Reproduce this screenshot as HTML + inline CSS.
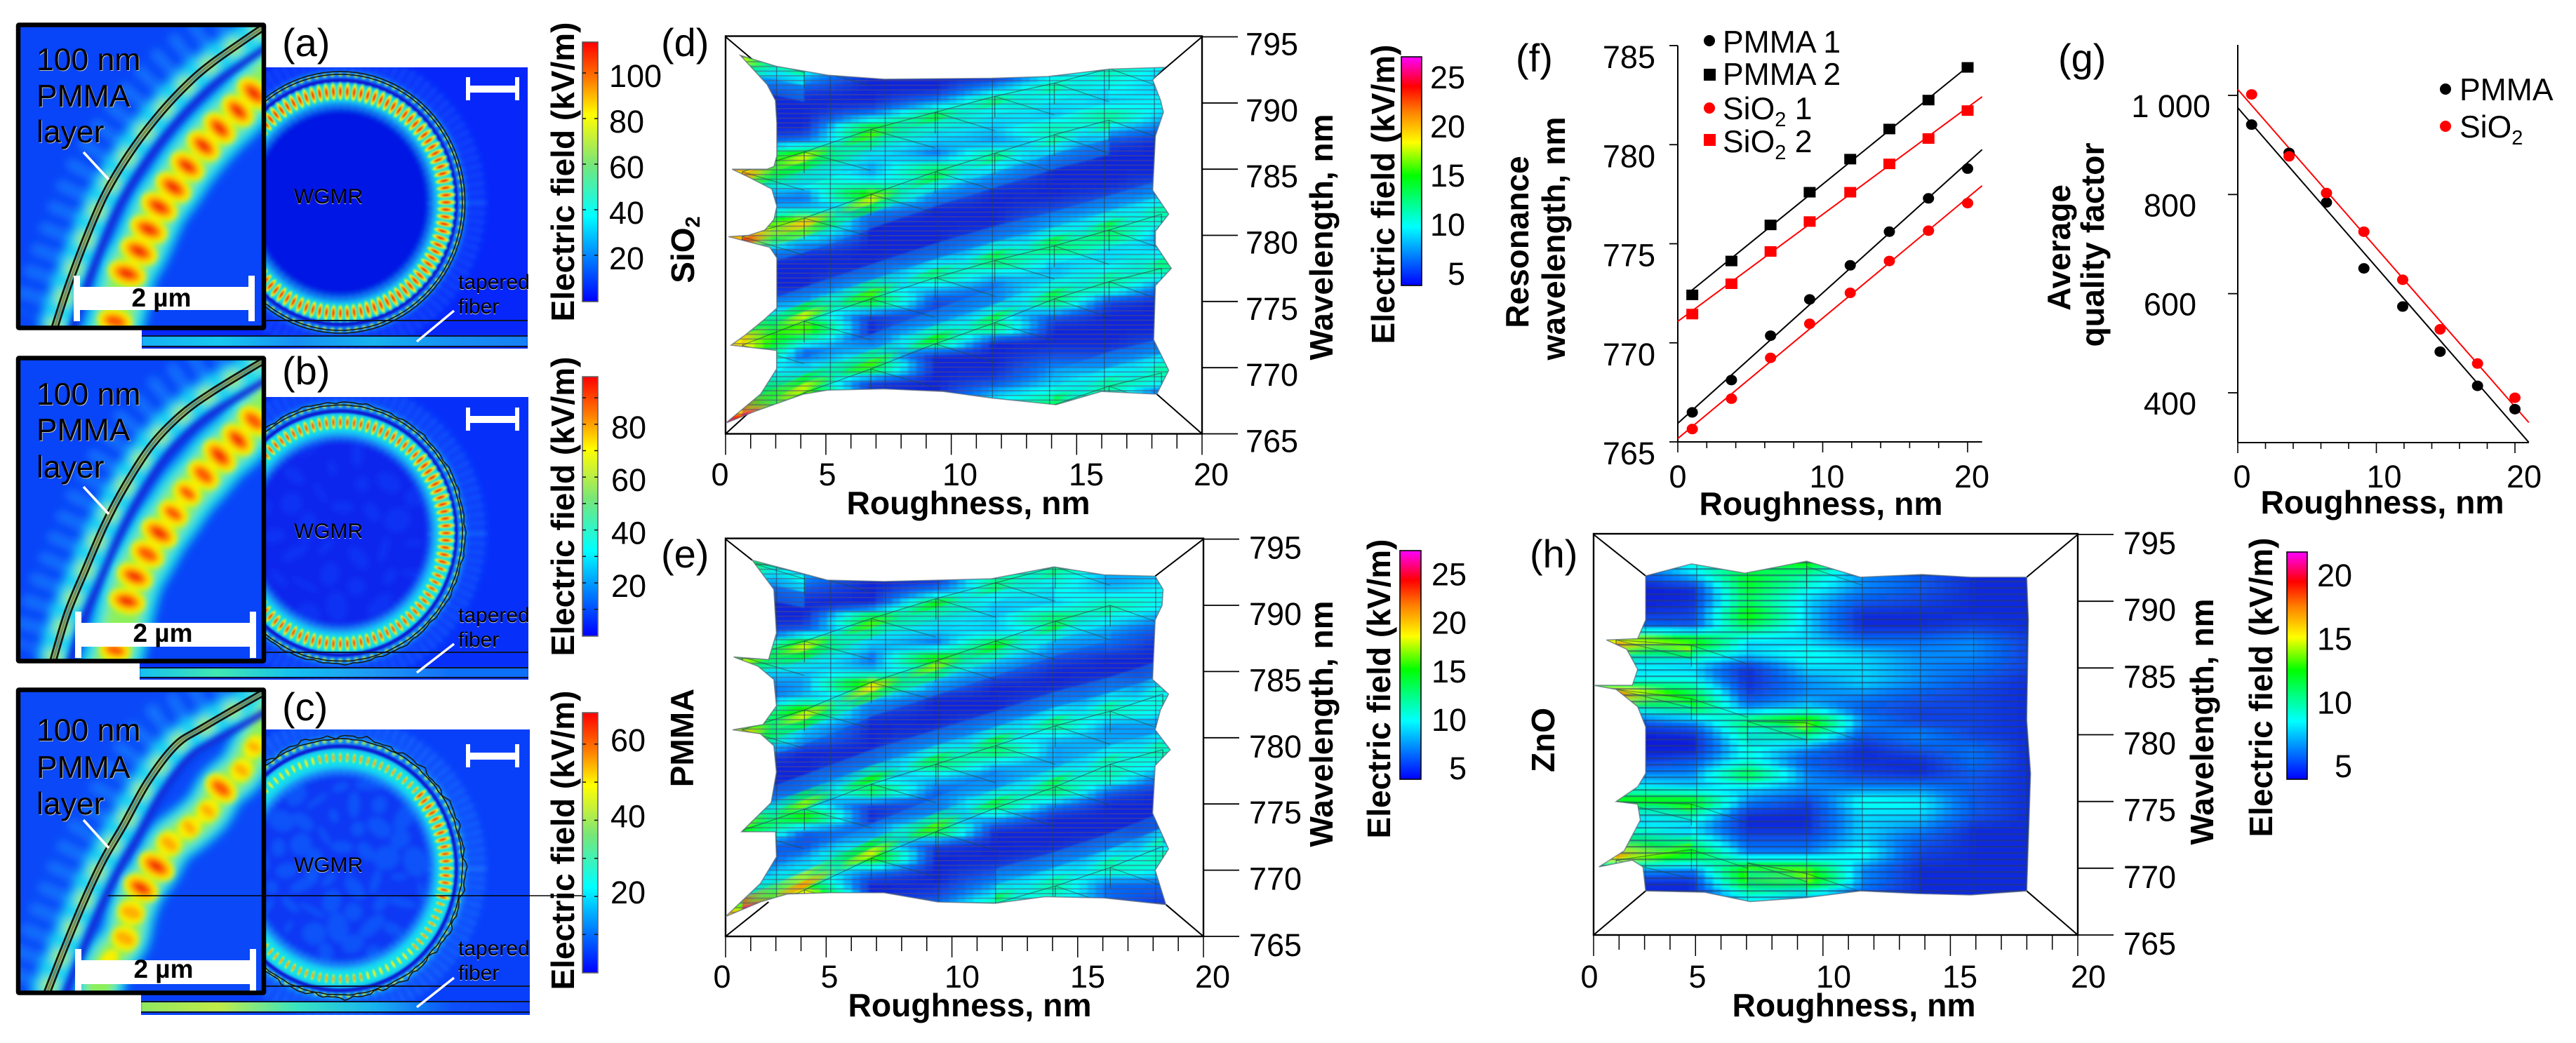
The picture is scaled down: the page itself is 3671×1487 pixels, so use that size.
<!DOCTYPE html>
<html lang="en">
<head>
<meta charset="utf-8">
<title>Electric field in whispering gallery mode resonators with rough coatings</title>
<style>
html,body{margin:0;padding:0;background:#fff;}
svg{display:block;}
text{font-family:"Liberation Sans",sans-serif;fill:#000;}
.num{font-size:45px;}
.lab{font-size:56px;}
.ttl{font-size:46px;font-weight:bold;}
.ins{font-size:44.5px;filter:drop-shadow(1px 1px 0 #bbb);}
.sm{font-size:30px;filter:drop-shadow(0.6px 1px 0 #ccc);}
.leg{font-size:44.5px;}
.sub{font-size:29px;}
</style>
</head>
<body>
<svg id="figure" xmlns="http://www.w3.org/2000/svg" width="3671" height="1487" viewBox="0 0 3671 1487">
<defs id="defs">
  <filter id="blur1" x="-10%" y="-10%" width="120%" height="120%"><feGaussianBlur stdDeviation="1.1"/></filter>
  <filter id="blur2" x="-10%" y="-10%" width="120%" height="120%"><feGaussianBlur stdDeviation="2.2"/></filter>
  <filter id="blur4" x="-10%" y="-10%" width="120%" height="120%"><feGaussianBlur stdDeviation="4"/></filter>
  <filter id="blur7" x="-15%" y="-15%" width="130%" height="130%"><feGaussianBlur stdDeviation="7"/></filter>
  <pattern id="stripes" patternUnits="userSpaceOnUse" width="20" height="6.7">
    <rect x="0" y="0" width="20" height="1.9" fill="#5a4a78" fill-opacity="0.5"/>
  </pattern>
  <pattern id="stripes-h" patternUnits="userSpaceOnUse" width="20" height="9">
    <rect x="0" y="0" width="20" height="2.4" fill="#2a3a68" fill-opacity="0.55"/>
  </pattern>
  <linearGradient id="jet" x1="0" y1="1" x2="0" y2="0">
    <stop offset="0" stop-color="#0000ff"/><stop offset="0.17" stop-color="#0080ff"/><stop offset="0.33" stop-color="#00ffff"/>
    <stop offset="0.53" stop-color="#78e678"/><stop offset="0.63" stop-color="#c4f03c"/><stop offset="0.72" stop-color="#ffff00"/>
    <stop offset="0.85" stop-color="#ff8000"/><stop offset="1" stop-color="#ff0000"/>
  </linearGradient>
  <linearGradient id="rainbow" x1="0" y1="1" x2="0" y2="0">
    <stop offset="0" stop-color="#0000ff"/><stop offset="0.13" stop-color="#0080ff"/><stop offset="0.256" stop-color="#00ffff"/>
    <stop offset="0.37" stop-color="#00ff80"/><stop offset="0.48" stop-color="#00ff00"/><stop offset="0.625" stop-color="#ffff00"/>
    <stop offset="0.76" stop-color="#ff8000"/><stop offset="0.87" stop-color="#ff0000"/><stop offset="1" stop-color="#ff00ff"/>
  </linearGradient>
</defs>

<!-- Panel (a) -->
<g id="a-main"></g>
<text class="sm" x="468" y="290" text-anchor="middle">WGMR</text>
<text class="sm" x="653" y="412">tapered</text>
<text class="sm" x="653" y="447">fiber</text>
<g id="a-inset"></g>
<text class="ins" x="52" y="100">100 nm</text>
<text class="ins" x="52" y="152">PMMA</text>
<text class="ins" x="52" y="203">layer</text>
<text x="230" y="437" font-size="37" font-weight="bold" text-anchor="middle">2 µm</text>
<text class="lab" x="402" y="80">(a)</text>
<text class="ttl" transform="translate(818,245) rotate(-90)" text-anchor="middle">Electric field (kV/m)</text>

<!-- Panel (b) -->
<g id="b-main"></g>
<text class="sm" x="468" y="767" text-anchor="middle">WGMR</text>
<text class="sm" x="653" y="887">tapered</text>
<text class="sm" x="653" y="922">fiber</text>
<g id="b-inset"></g>
<text class="ins" x="52" y="577">100 nm</text>
<text class="ins" x="52" y="628">PMMA</text>
<text class="ins" x="52" y="681">layer</text>
<text x="232" y="915" font-size="37" font-weight="bold" text-anchor="middle">2 µm</text>
<text class="lab" x="402" y="548">(b)</text>
<text class="ttl" transform="translate(818,722) rotate(-90)" text-anchor="middle">Electric field (kV/m)</text>

<!-- Panel (c) -->
<g id="c-main"></g>
<text class="sm" x="468" y="1243" text-anchor="middle">WGMR</text>
<text class="sm" x="653" y="1362">tapered</text>
<text class="sm" x="653" y="1397">fiber</text>
<g id="c-inset"></g>
<text class="ins" x="52" y="1056">100 nm</text>
<text class="ins" x="52" y="1109">PMMA</text>
<text class="ins" x="52" y="1161">layer</text>
<text x="233" y="1394" font-size="37" font-weight="bold" text-anchor="middle">2 µm</text>
<text class="lab" x="402" y="1027">(c)</text>
<text class="ttl" transform="translate(818,1198) rotate(-90)" text-anchor="middle">Electric field (kV/m)</text>
<line x1="154" y1="1277" x2="835" y2="1277" stroke="#000" stroke-width="1.6"/>

<g id="colorbars"></g>

<!-- Panel (d) -->
<g id="d-surface"></g>
<text class="lab" x="942" y="80">(d)</text>
<text class="ttl" transform="translate(989,356) rotate(-90)" text-anchor="middle">SiO<tspan class="sub" dy="8">2</tspan></text>
<text class="ttl" x="1380" y="733" text-anchor="middle" textLength="347" lengthAdjust="spacingAndGlyphs">Roughness, nm</text>
<text class="ttl" transform="translate(1899,338) rotate(-90)" text-anchor="middle">Wavelength, nm</text>
<text class="ttl" transform="translate(1987,277) rotate(-90)" text-anchor="middle">Electric field (kV/m)</text>

<!-- Panel (e) -->
<g id="e-surface"></g>
<text class="lab" x="942" y="809">(e)</text>
<text class="ttl" transform="translate(988,1052) rotate(-90)" text-anchor="middle">PMMA</text>
<text class="ttl" x="1382" y="1449" text-anchor="middle" textLength="347" lengthAdjust="spacingAndGlyphs">Roughness, nm</text>
<text class="ttl" transform="translate(1899,1032) rotate(-90)" text-anchor="middle">Wavelength, nm</text>
<text class="ttl" transform="translate(1981,982) rotate(-90)" text-anchor="middle">Electric field (kV/m)</text>

<!-- Panel (h) -->
<g id="h-surface"></g>
<text class="lab" x="2180" y="809">(h)</text>
<text class="ttl" transform="translate(2215,1055) rotate(-90)" text-anchor="middle">ZnO</text>
<text class="ttl" x="2642" y="1449" text-anchor="middle" textLength="347" lengthAdjust="spacingAndGlyphs">Roughness, nm</text>
<text class="ttl" transform="translate(3154,1029) rotate(-90)" text-anchor="middle">Wavelength, nm</text>
<text class="ttl" transform="translate(3238,980) rotate(-90)" text-anchor="middle">Electric field (kV/m)</text>

<!-- Panel (f) -->
<g id="f-chart"></g>
<text class="lab" x="2160" y="102">(f)</text>
<text class="ttl" transform="translate(2178,345) rotate(-90)" text-anchor="middle">Resonance</text>
<text class="ttl" transform="translate(2230,340) rotate(-90)" text-anchor="middle" textLength="347" lengthAdjust="spacingAndGlyphs">wavelength, nm</text>
<text class="ttl" x="2595" y="734" text-anchor="middle" textLength="347" lengthAdjust="spacingAndGlyphs">Roughness, nm</text>
<g>
  <circle cx="2436" cy="58" r="8" fill="#000"/>
  <text class="leg" x="2455" y="75">PMMA 1</text>
  <rect x="2428" y="98" width="17" height="17" fill="#000"/>
  <text class="leg" x="2455" y="121">PMMA 2</text>
  <circle cx="2436" cy="154" r="8" fill="#f00"/>
  <text class="leg" x="2455" y="170">SiO<tspan class="sub" dy="10">2</tspan><tspan dy="-10"> 1</tspan></text>
  <rect x="2428" y="191" width="17" height="17" fill="#f00"/>
  <text class="leg" x="2455" y="217">SiO<tspan class="sub" dy="10">2</tspan><tspan dy="-10"> 2</tspan></text>
</g>

<!-- Panel (g) -->
<g id="g-chart"></g>
<text class="lab" x="2933" y="102">(g)</text>
<text class="ttl" transform="translate(2950,353) rotate(-90)" text-anchor="middle">Average</text>
<text class="ttl" transform="translate(2998,349) rotate(-90)" text-anchor="middle" textLength="291" lengthAdjust="spacingAndGlyphs">quality factor</text>
<text class="ttl" x="3395" y="732" text-anchor="middle" textLength="347" lengthAdjust="spacingAndGlyphs">Roughness, nm</text>
<g>
  <circle cx="3485" cy="127" r="8" fill="#000"/>
  <text class="leg" x="3505" y="143">PMMA</text>
  <circle cx="3485" cy="180" r="8" fill="#f00"/>
  <text class="leg" x="3505" y="196">SiO<tspan class="sub" dy="10">2</tspan></text>
</g>
</svg>

<script>
/* ---------- Panel (f) data ---------- */
const roughnessPoints = [1, 3.7, 6.4, 9.1, 11.9, 14.6, 17.3, 20];
const wavelengthPmma1 = [766.49, 768.12, 770.36, 772.19, 773.91, 775.61, 777.29, 778.79];
const wavelengthPmma2 = [772.42, 774.13, 775.95, 777.6, 779.27, 780.79, 782.25, 783.9];
const wavelengthSio1 = [765.65, 767.18, 769.24, 770.96, 772.52, 774.13, 775.66, 777.05];
const wavelengthSio2 = [771.45, 772.98, 774.61, 776.12, 777.6, 779.03, 780.31, 781.72];
const fitPmma1 = [0, 765.94, 21, 779.75];
const fitPmma2 = [0.8, 772.55, 20.2, 784.05];
const fitSio1 = [0, 765.17, 21, 777.93];
const fitSio2 = [0, 771.08, 21, 782.42];
const fTicksY = [765, 770, 775, 780, 785];
const fTicksX = [0, 10, 20];

/* ---------- Panel (g) data ---------- */
const qualityPmma = [941, 884, 784, 651, 574, 483, 414, 367];
const qualitySio = [1002, 877, 803, 725, 628, 528, 459, 390];
const fitQualityPmma = [0, 975, 21, 300];
const fitQualitySio = [0, 1012, 21, 340];
const gTicksY = [400, 600, 800, 1000];
const gTickLabelsY = ['400', '600', '800', '1 000'];
const gTicksX = [0, 10, 20];

/* ---------- Surface panels shared axes ---------- */
const wavelengthRows = [794,793,792,791,790,789,788,787,786,785,784,783,782,781,780,779,778,777,776,775,774,773,772,771,770,769,768,767,766];
const wavelengthTicks = [765, 770, 775, 780, 785, 790, 795];
const roughnessTickLabels = [0, 5, 10, 15, 20];

/* ---------- Panel (d) SiO2 surface ---------- */
const roughnessColsD = [0.7, 3.3, 6.1, 8.8, 11.3, 13.8, 16.1, 18.3];
const fieldD = [
 [18,14,8,5,5,5,5,6,12,22,14,8,8,12,24,10,5,5,5,6,10,13,20,18,8,12,14,17,26],
 [9,12,9,6,5,5,5,8,18,12,11,7,9,20,12,6,5,5,5,8,12,18,11,6,10,13,18,10,10],
 [5,5,5,5,5,8,16,12,10,8,10,18,8,5,5,5,5,6,10,16,6,5,6,10,16,6,5,5,5],
 [5,5,5,5,8,14,11,9,7,14,11,7,5,5,5,5,7,13,9,6,6,9,15,5,5,5,5,5,5],
 [5,5,5,9,13,10,9,8,13,9,6,5,5,5,6,9,14,9,7,7,10,14,5,5,5,6,9,10,5],
 [5,6,10,12,10,9,12,10,7,5,5,5,6,8,10,14,9,9,11,14,7,5,5,6,8,9,11,14,5],
 [5,12,11,10,9,13,9,6,5,5,5,6,8,11,14,10,10,12,12,6,5,5,5,6,8,12,12,6,5],
 [6,10,9,9,10,9,7,5,5,5,6,8,12,11,8,9,13,11,7,5,5,5,6,8,12,11,6,5,5]
];
const outlineRoughnessD = [0.62,2.14,4.3,6.66,11.16,13.53,16.12,18.42,17.93,18.26,18.38,18.04,17.93,18.6,18.04,18.04,18.71,18.04,17.97,18.6,18.1,15.78,13.87,11.2,9.13,6.65,4.28,3.27,1.24,0,1.47,2.14,2.14,1.2,0.23,0.85,1.6,2.15,2.15,1.85,0.97,0.12,0.97,1.65,2.03,2.15,1.94,0.97,0.27,1.74,2.03,2.15,2.15,2.09,1.74];
const outlineWavelengthD = [793.6,792.77,792.1,791.8,791.87,792,792.56,792.69,791.74,790.2,789.3,787.5,783.4,781.6,780.3,779.3,777.5,776.2,772.1,769.8,768,768.2,767.2,767.7,768.2,768.4,768.3,768,766.7,765.8,768,769.9,771.3,771.5,771.7,772.5,773.6,774.5,778.3,779.1,779.5,779.9,780,780.4,781.2,782.2,783.5,784.4,785,785,785.2,786,788.5,790.2,791.4];
const ridgesD = [
 [793.7,792.7,null,null,null,null,null,null],
 [784.8,786.3,788,789.3,790.5,791.5,792.6,null],
 [779.9,781.3,783.1,784.8,786.2,787.6,788.7,null],
 [771.7,773.5,775.2,776.8,778.1,779.2,780.4,781.6],
 [765.8,768.1,769.9,771.8,773.4,775.2,776.5,777.5],
 [null,null,null,null,null,767.2,768.6,769.6]
];
const ridgeSidesD = [-1,-1,-1,1,1,1];
const meshColsD = [2.14,4.4,6.7,8.9,11.2,13.6,15.9,18];
const cornerRoughnessD = [2.14,17.88,18.1,2.14];
const cornerWavelengthD = [791.74,791.74,768,768.5];
const colorbarTicksD = [5,10,15,20,25];

/* ---------- Panel (e) PMMA surface ---------- */
const roughnessColsE = [0.7, 3.3, 6.1, 8.8, 11.3, 13.8, 16.1, 18.3];
const fieldE = [
 [16,14,8,5,5,5,5,6,18,10,7,6,8,16,20,8,5,5,5,6,10,17,8,5,6,9,12,18,26],
 [6,9,8,6,5,5,7,18,12,9,8,9,18,10,8,5,5,5,6,10,17,7,6,8,11,14,21,6,5],
 [5,5,5,5,5,16,11,9,7,9,19,9,6,5,5,5,6,9,15,6,5,7,10,18,8,5,5,5,5],
 [5,5,5,8,15,11,9,7,17,11,8,5,5,5,6,9,14,9,7,6,8,16,6,5,5,5,6,8,5],
 [5,6,13,11,9,9,9,15,10,7,5,5,5,7,10,14,9,7,8,14,9,5,5,5,6,8,10,14,6],
 [5,13,11,10,9,14,10,8,6,5,5,6,8,13,9,8,8,10,14,8,5,5,5,6,8,12,11,7,5],
 [5,9,8,9,12,10,8,7,5,5,6,8,12,8,8,9,11,12,7,5,5,5,6,9,12,7,7,6,5],
 [6,8,9,10,10,8,6,5,5,5,7,11,10,8,8,12,10,7,5,5,5,5,9,12,10,7,6,5,5]
];
const outlineRoughnessE = [1.12,4.27,6.63,11.12,13.75,15.84,17.98,18.31,18.27,17.98,17.87,18.54,18.2,17.98,18.61,17.98,17.87,18.54,17.98,18.43,15.84,13.37,11.28,8.88,6.63,4.38,2.58,1.46,0,1.46,2.13,2.09,0.67,1.91,2.13,2.02,1.46,0.29,1.57,2.13,2.02,1.35,0.34,1.8,2.13,2.02];
const outlineWavelengthE = [793.4,791.9,791.8,792,792.9,792.3,792.2,791.2,790,788.9,784.4,783.3,782.1,780.6,779.1,777.9,774.3,771.6,770,767.4,767.9,768,767.5,767.6,768.3,768.3,768.2,767.6,766.5,769,771,772.9,772.9,775.1,777.4,779.4,780.3,780.6,781,782.4,784.4,785.4,786.1,785.9,787.9,791.2];
const ridgesE = [
 [793.4,792.4,null,null,null,null,null,null],
 [786.1,787.3,789,790.5,791.7,792.9,null,null],
 [780.6,782.1,784.2,785.8,787.3,788.8,790,null],
 [773,774.6,776.5,778,779.4,780.9,782,783.3],
 [766.5,768.5,770.9,772.9,774.7,776.3,778,779.1],
 [null,null,null,null,767.5,768.8,770.2,771.8]
];
const ridgeSidesE = [-1,-1,-1,1,1,1];
const meshColsE = [2.13,4.4,6.7,8.9,11.3,13.7,15.9,18];
const cornerRoughnessE = [1.12,17.98,18.43,1.8];
const cornerWavelengthE = [793.4,792.2,767.4,767.6];
const colorbarTicksE = [5,10,15,20,25];

/* ---------- Panel (h) ZnO surface (rows by wavelength) ---------- */
const roughnessColsH = [0.93, 4.04, 6.36, 8.8, 11.1, 13.5, 15.7, 17.9];
const fieldRowsH = [
 [5,7,9,11,5,5,5,5],[5,9,10,13,7,5,5,5],[5,8,12,10,7,6,5,5],[4.5,5,12,9,7,6,5,5],[4.5,5,11,8,6,5.5,5,5],
 [5,5.5,13,8,5,5,5,5],[7,6,11,8,5,5,5.5,5],[17,14,8,8,6.5,6.5,7,5.5],[11,10,8,9,8,7,7,5.5],[8,8,5,8,8,7,6.5,5.5],
 [9,9,5,7,8,7,6,5],[18,12,5.5,7,7,6,5.5,5],[9,12,7,8,6,5.5,5.5,5],[5.5,7,11,14,7,5.5,5.5,5],[4.5,5,10,11,6,7,5.5,5],
 [4.5,4.5,9,7,5,6,6.5,5],[5,6,9,6,5,5,6.5,5],[7,7,12,7,5.5,5,6,5],[9,8,8,7,7,7,6,5],[13,13,7,5.5,9,8.5,6,5],
 [8,10,5,5,8,8,6,5],[9,8,5,5,8,7,5,5],[13,10,6,6,8,6,5,5],[17,13,7,7,9,5.5,5,5],[8,7,13,13,7,5,5,5],
 [5,5,13,14,7,5,5,5],[5,5,9,8,6,5,5,5],[5,5,8,7,6,5,5,5],[5,5,5,5,5,5,5,5]
];
const outlineRoughnessH = [2.15,4.04,6.25,8.8,11.02,13.57,15.57,17.89,17.96,17.89,18.05,17.89,15.57,13.35,11.02,8.8,6.47,4.59,2.15,2.04,1.6,0.22,1.26,1.93,1.82,0.93,1.82,2.15,2.15,1.82,0.93,0,1.6,1.82,1.37,0.53,1.82,2.15];
const outlineWavelengthH = [791.9,792.8,792.1,793,791.8,792,791.8,791.8,788.6,781.1,777.1,768.3,768,768.1,768.3,767.8,767.5,768.2,768.3,770.1,770.6,770.1,771.3,773.6,774.8,775,776.1,777.1,780.6,782.1,783.4,783.7,783.7,784.9,786.4,787.1,787.2,788.6];
const ridgesH = [
 [787.1,786.7,null,null,null,null,null,null],
 [783.4,782.7,null,null,null,null,null,null],
 [775,774.8,null,null,null,null,null,null],
 [770.6,771.4,null,null,null,null,null,null],
 [null,null,781,780.9,null,null,null,null],
 [null,null,770.4,769.6,null,null,null,null],
 [null,null,null,792.6,null,null,null,null]
];
const ridgeSidesH = [-1,-1,-1,1,-1,-1,-1];
const meshColsH = [2.15,4.26,6.36,8.8,11.1,13.5,15.7,17.9];
const cornerRoughnessH = [2.15,17.89,17.89,2.15];
const cornerWavelengthH = [791.9,791.8,768.3,768.3];
const colorbarTicksH = [5,10,15,20];

/* ---------- Field maps (a)-(c): resonator hot-spot brightness ---------- */
const ringBrightnessA = [1,1,1,.95,.95,1,1,1,1,1,1,1];
const ringBrightnessB = [.95,.8,.8,.85,.85,.9,.85,.8,.8,.8,.85,1];
const ringBrightnessC = [.85,.55,.5,.55,.55,.6,.55,.5,.5,.55,.55,.9];
const insetHotspotsA = [1,.95,.95,.95,.95,1,1,1,1,1,.9];
const insetHotspotsB = [.9,.95,1,.9,.75,.8,1,.9,.95,.95,.8];
const insetHotspotsC = [.5,.55,.9,.55,.55,.65,1,.95,.7,.7,.4];
const colorbarTicksA = [20,40,60,80,100];
const colorbarTicksB = [20,40,60,80];
const colorbarMinorB = [10,30,50,70,90];
const colorbarTicksC = [20,40,60];
const colorbarMinorC = [10,30,50];

const NS = 'http://www.w3.org/2000/svg';
const svg = document.getElementById('figure');
const defs = document.getElementById('defs');

function mk(tag, attrs, parent) {
  const e = document.createElementNS(NS, tag);
  for (const k in attrs) e.setAttribute(k, attrs[k]);
  if (parent) parent.appendChild(e);
  return e;
}

/* Rainbow colour map used by surfaces */
const mapT = [0, .06, .16, .256, .37, .48, .625, .76, .87, 1];
const mapC = [[0,0,215],[15,45,222],[0,128,255],[0,255,255],[0,255,128],[0,255,0],[255,255,0],[255,128,0],[255,0,0],[255,0,255]];
function colourAt(t) {
  t = Math.max(0, Math.min(1, t));
  let i = 0;
  while (i < mapT.length - 2 && t > mapT[i + 1]) i++;
  const f = (t - mapT[i]) / (mapT[i + 1] - mapT[i]);
  const c = mapC[i].map((a, j) => Math.round(a + (mapC[i + 1][j] - a) * f));
  return 'rgb(' + c.join(',') + ')';
}

function smoothPath(p) {
  let d = 'M' + p[0][0] + ' ' + p[0][1];
  for (let i = 0; i < p.length - 1; i++) {
    const a = p[Math.max(i - 1, 0)], b = p[i], c = p[i + 1], e = p[Math.min(i + 2, p.length - 1)];
    d += 'C' + (b[0] + (c[0] - a[0]) / 6).toFixed(1) + ' ' + (b[1] + (c[1] - a[1]) / 6).toFixed(1) + ' ' +
         (c[0] - (e[0] - b[0]) / 6).toFixed(1) + ' ' + (c[1] - (e[1] - b[1]) / 6).toFixed(1) + ' ' + c[0] + ' ' + c[1];
  }
  return d;
}

/* ---------- Surface plots ---------- */
function drawSurface(s) {
  const root = document.getElementById(s.id + '-surface');
  const xOf = r => s.L + r * (s.R - s.L) / 20;
  const yOf = w => s.B - (w - 765) * (s.B - s.T) / 30;

  /* frame */
  const frame = mk('rect', {x: s.L, y: s.T - 1, width: s.R - s.L, height: s.B - s.T + 1, fill: 'none', stroke: '#000', 'stroke-width': 2.4}, root);
  
  

  /* corner edges of 3D box */
  const outerX = [s.L, s.R, s.R, s.L];
  const outerY = [s.T, s.T, s.B, s.B];
  s.cornerR.forEach((r, i) => {
    const line = mk('line', {x1: outerX[i], y1: outerY[i], x2: xOf(r), y2: yOf(s.cornerW[i]), stroke: '#000', 'stroke-width': 2}, root);
    
    
  });

  /* wavelength axis */
  wavelengthTicks.forEach(w => {
    const t = mk('line', {x1: s.R, y1: yOf(w), x2: s.R + 51, y2: yOf(w), stroke: '#000', 'stroke-width': 1.8}, root);
    
    
    const lbl = mk('text', {x: s.labelX, y: yOf(w) + s.labelDy, class: 'num'}, root);
    
    
    lbl.textContent = w;
  });

  /* roughness axis: the source has 19 divisions with labels on every fifth */
  const step = (s.R - s.L) / 19;
  for (let i = 0; i < 20; i++) {
    const major = (i === 0 || (i + 1) % 5 === 0);
    const t = mk('line', {x1: s.L + i * step, y1: s.B, x2: s.L + i * step, y2: s.B + (major ? 30 : 21), stroke: '#000', 'stroke-width': 1.5}, root);
    
    
  }
  roughnessTickLabels.forEach((v, i) => {
    const lbl = mk('text', {x: s.xLabelX[i], y: s.xLabelY, class: 'num', 'text-anchor': 'middle'}, root);
    
    
    lbl.textContent = v;
  });

  /* clip to silhouette */
  const pts = s.outlineR.map((r, i) => xOf(r).toFixed(1) + ',' + yOf(s.outlineW[i]).toFixed(1)).join(' ');
  const cp = mk('clipPath', {id: s.id + '-clip'}, defs);
  mk('polygon', {points: pts}, cp);
  const clipped = mk('g', {'clip-path': 'url(#' + s.id + '-clip)'}, root);
  
  
  const cells = mk('g', {filter: 'url(#blur2)'}, clipped);
  
  

  const sample = (r, w) => {
    const cs = s.cols;
    let c = 0;
    while (c < cs.length - 2 && r > cs[c + 1]) c++;
    const fc = Math.max(0, Math.min(1, (r - cs[c]) / (cs[c + 1] - cs[c])));
    const ws = wavelengthRows;
    const rr = Math.max(0, Math.min(ws.length - 1.001, ws[0] - w));
    const ri = Math.floor(rr), fr = rr - ri;
    const a = s.field[c][ri] * (1 - fr) + s.field[c][ri + 1] * fr;
    const b = s.field[c + 1][ri] * (1 - fr) + s.field[c + 1][ri + 1] * fr;
    return a * (1 - fc) + b * fc;
  };
  const crestT = (c, w) => {
    const rr = Math.max(0, Math.min(wavelengthRows.length - 2, wavelengthRows[0] - w));
    const ri = Math.floor(rr);
    const v = Math.max(s.field[c][ri], s.field[c][ri + 1]);
    return (v - s.vmin) / (s.vmax - s.vmin);
  };
  const dr = 0.34, dw = 0.5;
  for (let r = -0.5; r < 19.5; r += dr) {
    for (let w = 795; w > 765; w -= dw) {
      const v = sample(r + dr / 2, w - dw / 2);
      const cell = mk('rect', {
        x: xOf(r).toFixed(1), y: yOf(w).toFixed(1),
        width: ((s.R - s.L) / 20 * dr + 1).toFixed(1), height: ((s.B - s.T) / 30 * dw + 1).toFixed(1),
        fill: colourAt((v - s.vmin) / (s.vmax - s.vmin))
      }, cells);
      
      
    }
  }

  /* crest bands: sharp on one side, fading on the other; dimmest between crests */
  const crests = mk('g', {filter: 'url(#blur1)'}, clipped);
  
  
  s.ridges.forEach((band, bi) => {
    const side = s.ridgeSides[bi];
    band.forEach((w, i) => {
      if (w === null || i + 1 >= band.length || band[i + 1] === null) return;
      const next = band[i + 1];
      const x1 = xOf(s.cols[i]), x2 = xOf(s.cols[i + 1]);
      const t1 = crestT(i, w), t2 = crestT(i + 1, next);
      const layers = [
        [2.6, 'fade', 0.4],
        [1.4, 'mid', 0.75],
        [0.7, 'core', 0.95]
      ];
      layers.forEach((lay, li) => {
        const gid = s.id + '-cg-' + bi + '-' + i + '-' + li;
        const gr = mk('linearGradient', {id: gid, gradientUnits: 'userSpaceOnUse', x1: x1, y1: 0, x2: x2, y2: 0}, defs);
        const drop = lay[1] === 'core' ? 0 : 0.13;
        const floor = lay[1] === 'fade' ? 0.2 : 0.26;
        const tA = lay[1] === 'fade' ? floor : Math.max(t1 - drop, floor);
        const tB = lay[1] === 'fade' ? floor : Math.max(t2 - drop, floor);
        const midOpacity = lay[1] === 'core' ? 0.05 : (lay[1] === 'mid' ? 0.3 : 0.7);
        mk('stop', {offset: 0, 'stop-color': colourAt(tA)}, gr);
        mk('stop', {offset: .5, 'stop-color': colourAt(Math.max((tA + tB) / 2 - 0.08, floor)), 'stop-opacity': midOpacity}, gr);
        mk('stop', {offset: 1, 'stop-color': colourAt(tB)}, gr);
        const h = lay[0] * s.crestScale;
        const poly = mk('polygon', {
          points: [x1, yOf(w + side * 0.12), x2, yOf(next + side * 0.12)].join(',') + ' ' +
                  [x2, yOf(next + side * h), x1, yOf(w + side * h)].join(','),
          fill: 'url(#' + gid + ')', 'fill-opacity': lay[2]
        }, crests);
        
        
      });
    });
  });

  /* horizontal stripes */
  const st = mk('rect', {x: s.L, y: s.T, width: s.R - s.L, height: s.B - s.T, fill: 'url(#' + s.stripes + ')'}, clipped);
  
  

  /* column mesh lines */
  s.meshCols.forEach(r => {
    const l = mk('line', {x1: xOf(r), y1: s.T, x2: xOf(r), y2: s.B, stroke: '#23405a', 'stroke-opacity': .55, 'stroke-width': 1.5}, clipped);
    
    
  });

  /* ridge mesh lines fanning from each crest */
  s.ridges.forEach(band => {
    band.forEach((w, i) => {
      if (w === null) return;
      if (i + 1 < band.length) {
        const next = band[i + 1];
        if (next !== null) {
          const l1 = mk('line', {x1: xOf(s.cols[i]), y1: yOf(w), x2: xOf(s.cols[i + 1]), y2: yOf(next), stroke: '#1d4a3c', 'stroke-opacity': .55, 'stroke-width': 1.4}, clipped);
          
          
        }
        const l2 = mk('line', {x1: xOf(s.cols[i]), y1: yOf(w), x2: xOf(s.cols[i + 1]), y2: yOf(w - 1.4), stroke: '#1d4a3c', 'stroke-opacity': .5, 'stroke-width': 1.3}, clipped);
        
        
      }
      const col = mk('line', {x1: xOf(s.cols[i]), y1: yOf(w), x2: xOf(s.cols[i]), y2: yOf(w - 1.6), stroke: '#1d4a3c', 'stroke-opacity': .65, 'stroke-width': 1.4}, clipped);
      
      
    });
  });

  /* silhouette edge */
  const edge = mk('polygon', {points: pts, fill: 'none', stroke: '#5a6a78', 'stroke-opacity': .7, 'stroke-width': 1.6}, root);
  
  
}

drawSurface({id: 'd', L: 1034, R: 1713, T: 52.5, B: 618.5, labelX: 1775, labelDy: 26, xLabelX: [1026,1179,1368,1548,1726], xLabelY: 692,
  cols: roughnessColsD, field: fieldD, outlineR: outlineRoughnessD, outlineW: outlineWavelengthD, ridges: ridgesD, ridgeSides: ridgeSidesD, crestScale: 1, meshCols: meshColsD,
  cornerR: cornerRoughnessD, cornerW: cornerWavelengthD, vmin: 3.8, vmax: 27.6, stripes: 'stripes'});
drawSurface({id: 'e', L: 1034, R: 1715, T: 768.6, B: 1335, labelX: 1780, labelDy: 28, xLabelX: [1029,1182,1371,1550,1728], xLabelY: 1408,
  cols: roughnessColsE, field: fieldE, outlineR: outlineRoughnessE, outlineW: outlineWavelengthE, ridges: ridgesE, ridgeSides: ridgeSidesE, crestScale: 1, meshCols: meshColsE,
  cornerR: cornerRoughnessE, cornerW: cornerWavelengthE, vmin: 3.8, vmax: 27.4, stripes: 'stripes'});
const fieldH = fieldRowsH[0].map((_, c) => fieldRowsH.map(row => row[c]));
drawSurface({id: 'h', L: 2271, R: 2961, T: 762, B: 1333, labelX: 3026, labelDy: 28, xLabelX: [2265,2419,2613,2793,2976], xLabelY: 1408,
  cols: roughnessColsH, field: fieldH, outlineR: outlineRoughnessH, outlineW: outlineWavelengthH, ridges: ridgesH, ridgeSides: ridgeSidesH, crestScale: 0.7, meshCols: meshColsH,
  cornerR: cornerRoughnessH, cornerW: cornerWavelengthH, vmin: 3.95, vmax: 21.8, stripes: 'stripes-h'});

/* ---------- Colour bars ---------- */
function drawColorbar(c) {
  const root = document.getElementById('colorbars');
  const bar = mk('rect', {x: c.x, y: c.top, width: c.w, height: c.bottom - c.top, fill: 'url(#' + c.grad + ')', stroke: c.border, 'stroke-width': 1.6}, root);
  
  
  const yOf = v => c.tickY0 - (v - c.tickV0) * c.pxPer;
  const tickSet = c.ticks.concat(c.minor || []);
  if (c.showTicks) tickSet.forEach(v => {
    const a = mk('line', {x1: c.x, y1: yOf(v), x2: c.x + 5, y2: yOf(v), stroke: '#111', 'stroke-width': 1.5}, root);
    
    
    const b = mk('line', {x1: c.x + c.w - 5, y1: yOf(v), x2: c.x + c.w, y2: yOf(v), stroke: '#111', 'stroke-width': 1.5}, root);
    
    
  });
  c.ticks.forEach(v => {
    const lbl = mk('text', {x: c.labelX, y: yOf(v) + c.labelDy, class: 'num', 'text-anchor': c.anchor}, root);
    
    
    lbl.textContent = v;
  });
}
drawColorbar({name: 'colorbar-a', x: 830, w: 22, top: 60, bottom: 430, grad: 'jet', border: '#555', ticks: colorbarTicksA, tickV0: 20, tickY0: 364, pxPer: 3.25, showTicks: true, labelX: 868, labelDy: 20, anchor: 'start'});
drawColorbar({name: 'colorbar-b', x: 830, w: 22, top: 537, bottom: 907, grad: 'jet', border: '#666', ticks: colorbarTicksB, minor: colorbarMinorB, tickV0: 20, tickY0: 831, pxPer: 3.77, showTicks: true, labelX: 871, labelDy: 20, anchor: 'start'});
drawColorbar({name: 'colorbar-c', x: 830, w: 22, top: 1016, bottom: 1387, grad: 'jet', border: '#666', ticks: colorbarTicksC, minor: colorbarMinorC, tickV0: 20, tickY0: 1278, pxPer: 5.43, showTicks: true, labelX: 870, labelDy: 10, anchor: 'start'});
drawColorbar({name: 'colorbar-d', x: 1997, w: 29, top: 81, bottom: 407, grad: 'rainbow', border: '#000', ticks: colorbarTicksD, tickV0: 5, tickY0: 390, pxPer: 14, showTicks: false, labelX: 2088, labelDy: 16, anchor: 'end'});
drawColorbar({name: 'colorbar-e', x: 1995, w: 30, top: 785, bottom: 1111, grad: 'rainbow', border: '#000', ticks: colorbarTicksE, tickV0: 5, tickY0: 1095, pxPer: 13.82, showTicks: false, labelX: 2090, labelDy: 16, anchor: 'end'});
drawColorbar({name: 'colorbar-h', x: 3259, w: 29, top: 787, bottom: 1111, grad: 'rainbow', border: '#000', ticks: colorbarTicksH, tickV0: 5, tickY0: 1092, pxPer: 18.13, showTicks: false, labelX: 3352, labelDy: 16, anchor: 'end'});

/* ---------- Field maps ---------- */
function wobbly(cx, cy, rx, ry, amp, seed) {
  const p = [];
  for (let i = 0; i < 180; i++) {
    const a = i / 180 * Math.PI * 2;
    const n = amp * (Math.sin(a * 37 + seed) * .55 + Math.sin(a * 61 + seed * 2.1) * .35 + Math.sin(a * 13 + seed * .7) * .4);
    p.push((cx + (rx + n) * Math.cos(a)).toFixed(1) + ',' + (cy + (ry + n) * Math.sin(a)).toFixed(1));
  }
  return p.join(' ');
}

function drawField(p) {
  const K = 0.955;
  const g = document.getElementById(p.id + '-main');
  const cp = mk('clipPath', {id: p.id + '-mainclip'}, defs);
  mk('rect', {x: p.x, y: p.y, width: p.w, height: p.h}, cp);
  const main = mk('g', {'clip-path': 'url(#' + p.id + '-mainclip)'}, g);
  const bg = mk('rect', {x: p.x, y: p.y, width: p.w, height: p.h, fill: p.bg}, main);
  
  

  const soft = mk('g', {filter: 'url(#blur4)'}, main);
  
  
  mk('ellipse', {cx: p.cx, cy: p.cy, rx: 143 * K, ry: 143, fill: p.inner}, soft);
  for (let i = 0; i < p.veins; i++) {
    const a = i * 2.39996, rad = 130 * Math.sqrt((i + .5) / p.veins);
    const vx = p.cx + rad * K * Math.cos(a), vy = p.cy + rad * Math.sin(a);
    mk('ellipse', {cx: vx.toFixed(1), cy: vy.toFixed(1), rx: 4 + (i % 7) * 2.2, ry: 10 + (i % 5) * 3, fill: p.veinColor, 'fill-opacity': .42, transform: 'rotate(' + (i * 47 % 180) + ' ' + vx.toFixed(1) + ' ' + vy.toFixed(1) + ')'}, soft);
  }
  /* outer radial rays */
  mk('ellipse', {cx: p.cx, cy: p.cy, rx: 200 * K, ry: 200, fill: 'none', stroke: '#2080ff', 'stroke-opacity': p.rayOpacity, 'stroke-width': 34, 'stroke-dasharray': '5 7'}, soft);
  /* halo of outer whispering mode */
  mk('ellipse', {cx: p.cx, cy: p.cy, rx: 182 * K, ry: 182, fill: 'none', stroke: '#18c8f4', 'stroke-width': 11, 'stroke-dasharray': '7 5'}, soft);
  /* main halo */
  mk('ellipse', {cx: p.cx, cy: p.cy, rx: 157 * K, ry: 157, fill: 'none', stroke: '#16e4ea', 'stroke-width': p.halo}, soft);
  mk('ellipse', {cx: p.cx, cy: p.cy, rx: 140 * K, ry: 140, fill: 'none', stroke: '#1aa4ff', 'stroke-width': 14, 'stroke-dasharray': '5 6'}, soft);

  const crisp = mk('g', {filter: 'url(#blur1)'}, main);
  
  
  mk('ellipse', {cx: p.cx, cy: p.cy, rx: 173 * K, ry: 174, fill: 'none', stroke: '#0a1ed0', 'stroke-width': 5}, crisp);
  const N = 96;
  for (let i = 0; i < N; i++) {
    const a = i / N * Math.PI * 2;
    const sector = p.ring[Math.floor(((a + Math.PI * 2 + .26) % (Math.PI * 2)) / (Math.PI * 2) * 12) % 12];
    const x = p.cx + 158 * K * Math.cos(a), y = p.cy + 158 * Math.sin(a);
    const deg = a * 180 / Math.PI;
    const layers = [[13, 3.9, '#7cf060'], [10.5, 3, '#fff000'], [8, 2.4, '#ff9400'], [5, 1.6, '#f02400']];
    layers.forEach((l, j) => {
      if (j === 3 && sector < .8) return;
      if (j === 2 && sector < .52) return;
      const blob = mk('ellipse', {cx: x.toFixed(1), cy: y.toFixed(1), rx: (l[0] * sector).toFixed(1), ry: (l[1] * sector).toFixed(1), fill: l[2], transform: 'rotate(' + deg.toFixed(1) + ' ' + x.toFixed(1) + ' ' + y.toFixed(1) + ')'}, crisp);
      
      
    });
    const ox = p.cx + 182 * K * Math.cos(a), oy = p.cy + 182 * Math.sin(a);
    const outer = mk('ellipse', {cx: ox.toFixed(1), cy: oy.toFixed(1), rx: 3.4, ry: 3, fill: '#b8f048', 'fill-opacity': .75}, crisp);
    
    
  }

  /* fibre section */
  const fiberGrad = mk('linearGradient', {id: p.id + '-fiber', x1: 0, y1: 0, x2: 1, y2: 0}, defs);
  p.fiberStops.forEach((c, i) => mk('stop', {offset: i / (p.fiberStops.length - 1), 'stop-color': c}, fiberGrad));
  const fib = mk('rect', {x: p.x, y: p.fiberY[1], width: p.w, height: p.fiberY[2] - p.fiberY[1], fill: 'url(#' + p.id + '-fiber)', filter: 'url(#blur1)'}, main);
  
  
  const speck = mk('line', {x1: p.x, y1: (p.fiberY[1] + p.fiberY[2]) / 2, x2: p.x + p.w, y2: (p.fiberY[1] + p.fiberY[2]) / 2, stroke: '#1850f0', 'stroke-opacity': .55, 'stroke-width': 9, 'stroke-dasharray': '7 13', filter: 'url(#blur1)'}, main);
  
  

  /* resonator outlines */
  const o1 = mk('polygon', {points: wobbly(p.cx, p.cy + p.dyOuter, 186 * K, 186.5, p.wobble, 1.3), fill: 'none', stroke: '#1a1a10', 'stroke-width': 1.6}, main);
  
  
  const o2 = mk('polygon', {points: wobbly(p.cx, p.cy + p.dyOuter, 182 * K, 182.5, p.wobble * .25, 2.7), fill: 'none', stroke: '#1a1a10', 'stroke-width': 1.6}, main);
  
  

  p.fiberY.forEach((y, i) => {
    const l = mk('line', {x1: i === 0 ? p.x + 177 : p.x, y1: y, x2: p.x + p.w, y2: y, stroke: '#0b1430', 'stroke-width': 2}, main);
    
    
  });

  /* top scale bar */
  const bx = 664, bw = 76, by = p.barY;
  [[bx, by, 6, 33], [bx + bw - 6, by, 6, 33], [bx, by + 12, bw, 10]].forEach(r => {
    const b = mk('rect', {x: r[0], y: r[1], width: r[2], height: r[3], fill: '#fff'}, main);
    
    
  });
  const ptr = mk('line', {x1: 647, y1: p.ptr[0], x2: 594, y2: p.ptr[1], stroke: '#fff', 'stroke-width': 3.4}, main);
  
  

  /* ---- inset ---- */
  const ig = document.getElementById(p.id + '-inset');
  const ix = 26, iy = p.insetY + 3, iw = 350, ih = 431;
  const icp = mk('clipPath', {id: p.id + '-insetclip'}, defs);
  mk('rect', {x: ix, y: iy, width: iw, height: ih}, icp);
  const ins = mk('g', {'clip-path': 'url(#' + p.id + '-insetclip)'}, ig);
  const ibg = mk('rect', {x: ix, y: iy, width: iw, height: ih, fill: p.insetBg}, ins);
  
  

  const arcPath = smoothPath(p.arc);
  const shift = (pts, dx, dy) => pts.map(q => [q[0] + dx, q[1] + dy]);
  const b0 = p.blobs[0], b1 = p.blobs[1], bN = p.blobs[p.blobs.length - 1];
  const bandPath = smoothPath([[b0[0] + 2 * (b0[0] - b1[0]), b0[1] + 2 * (b0[1] - b1[1])]].concat(p.blobs, [[bN[0] - 14, bN[1] + 40]]));
  const blurBig = mk('g', {filter: 'url(#blur7)'}, ins);
  
  
  mk('path', {d: smoothPath(shift(p.arc, -30, -22)), fill: 'none', stroke: '#2090ff', 'stroke-opacity': .7, 'stroke-width': 54, 'stroke-dasharray': '14 18'}, blurBig);
  mk('path', {d: smoothPath(shift(p.arc, 3, 3)), fill: 'none', stroke: '#14d4f0', 'stroke-width': 46}, blurBig);
  mk('path', {d: smoothPath(shift(p.arc, 3, 3)), fill: 'none', stroke: '#a8f040', 'stroke-width': 20, 'stroke-dasharray': '20 24'}, blurBig);
  mk('path', {d: bandPath, fill: 'none', stroke: '#14dcec', 'stroke-width': p.insetHalo, 'stroke-linecap': 'round'}, blurBig);
  mk('path', {d: bandPath, fill: 'none', stroke: '#8cf05c', 'stroke-width': p.insetHalo * .6, 'stroke-linecap': 'round', 'stroke-dasharray': '30 6'}, blurBig);

  const blurMid = mk('g', {filter: 'url(#blur4)'}, ins);
  
  
  mk('path', {d: smoothPath(shift(p.arc, 24, 20)), fill: 'none', stroke: '#0a24d8', 'stroke-width': 9}, blurMid);
  p.blobs.forEach((b, i) => {
    const prev = p.blobs[Math.max(i - 1, 0)], next = p.blobs[Math.min(i + 1, p.blobs.length - 1)];
    const ang = Math.atan2(next[1] - prev[1], next[0] - prev[0]) * 180 / Math.PI + 90;
    const v = p.hot[i];
    [[28, 18, '#f8f000'], [21, 12.5, '#ffae00'], [15, 8.5, '#ff5a00'], [8, 4.5, '#f02800']].forEach((l, j) => {
      if (j === 3 && v < .93) return;
      if (j === 2 && v < .72) return;
      if (j === 1 && v < .5) return;
      const blob = mk('ellipse', {cx: b[0], cy: b[1], rx: (l[0] * v).toFixed(1), ry: (l[1] * (j === 0 ? 1 : v)).toFixed(1), fill: l[2], transform: 'rotate(' + ang.toFixed(1) + ' ' + b[0] + ' ' + b[1] + ')'}, blurMid);
      
      
    });
  });

  /* double layer line */
  const inner = smoothPath(shift(p.arc, 7, 5));
  [[arcPath, 2.8], [inner, 2.8]].forEach(a => {
    const l = mk('path', {d: a[0], fill: 'none', stroke: '#161610', 'stroke-width': a[1]}, ins);
    
    
  });
  const gold = mk('path', {d: smoothPath(shift(p.arc, 3.5, 2.5)), fill: 'none', stroke: '#7a7a48', 'stroke-opacity': .85, 'stroke-width': 3.6}, ins);
  
  

  const pt = mk('line', {x1: 119, y1: p.insetPtr[0], x2: 155, y2: p.insetPtr[1], stroke: '#fff', 'stroke-width': 3.6}, ins);
  
  

  const sb = p.scale;
  [[sb[0], sb[1], 9, sb[2]], [sb[0] + sb[3] - 9, sb[1], 9, sb[2]], [sb[0], sb[1] + sb[4], sb[3], sb[5]]].forEach(r => {
    const b = mk('rect', {x: r[0], y: r[1], width: r[2], height: r[3], fill: '#fff'}, ins);
    
    
  });

  const border = mk('rect', {x: 26, y: p.insetY + 2.5, width: 350, height: 432, rx: 1, fill: 'none', stroke: '#000', 'stroke-width': 6.5}, ig);
  
  
}

drawField({id: 'a', x: 202, y: 96, w: 550, h: 401, cx: 485, cy: 288.5, dyOuter: 0, bg: '#0626fa', inner: '#0616e4', veins: 0, veinColor: '#0828f0', rayOpacity: .55, halo: 30, wobble: 0,
  ring: ringBrightnessA, fiberY: [457, 479, 494], fiberStops: ['#18b0f4','#14c8f0','#1890f4','#14b4f0','#1890f4','#1480f4'], barY: 110, ptr: [443, 487],
  insetY: 33, insetBg: '#0844f8', insetHalo: 84, hot: insetHotspotsA, insetPtr: [217, 256], scale: [105, 393, 65, 258, 16, 33],
  arc: [[375,34],[299,87],[258,123],[218,167],[180,218],[146,275],[118,340],[92,410],[72,472]],
  blobs: [[362,133],[339,158],[313,183],[290,208],[267,237],[247,267],[227,295],[212,327],[198,358],[181,390],[164,458]]});
drawField({id: 'b', x: 199, y: 566, w: 554, h: 403, cx: 485, cy: 760, dyOuter: 0, bg: '#0630fa', inner: '#0826ee', veins: 30, veinColor: '#0c46fa', rayOpacity: .65, halo: 32, wobble: 1.5,
  ring: ringBrightnessB, fiberY: [930, 952, 966], fiberStops: ['#14c0f0','#40e8b0','#14c0f0','#2098f4','#1070f8','#1070f8'], barY: 581, ptr: [918, 959],
  insetY: 508, insetBg: '#0844f8', insetHalo: 86, hot: insetHotspotsB, insetPtr: [694, 733], scale: [107, 872, 66, 258, 16, 34],
  arc: [[375,510],[298,557],[253,590],[212,633],[175,690],[146,745],[118,810],[92,873],[70,947]],
  blobs: [[362,600],[339,627],[313,650],[290,677],[267,703],[247,732],[227,760],[210,790],[192,822],[181,857],[164,927]]});
drawField({id: 'c', x: 201, y: 1040, w: 554, h: 407, cx: 485, cy: 1238, dyOuter: -2, bg: '#0840fa', inner: '#0838f4', veins: 46, veinColor: '#1a78ff', rayOpacity: .8, halo: 30, wobble: 3.2,
  ring: ringBrightnessC, fiberY: [1406, 1428, 1443], fiberStops: ['#90e860','#c0ec48','#38e4c0','#18b4f0','#0a50fa','#0a40fa'], barY: 1061, ptr: [1394, 1436],
  insetY: 981, insetBg: '#0a48f8', insetHalo: 70, hot: insetHotspotsC, insetPtr: [1169, 1209], scale: [107, 1353, 63, 258, 16, 34],
  arc: [[375,983],[287,1034],[247,1060],[207,1112],[172,1175],[143,1225],[115,1285],[86,1355],[60,1422]],
  blobs: [[362,1065],[344,1098],[315,1124],[296,1156],[270,1180],[241,1203],[223,1235],[201,1266],[187,1301],[178,1338],[155,1369]]});

/* ---------- Panel (f) chart ---------- */
(function () {
  const root = document.getElementById('f-chart');
  const x = v => 2391 + v * 20.65;
  const y = v => 630 - (v - 765) * 28.25;
  const yAxis = mk('line', {x1: 2391, y1: 65, x2: 2391, y2: 630, stroke: '#000', 'stroke-width': 2}, root);
  
  
  const xAxis = mk('line', {x1: 2391, y1: 630, x2: x(21), y2: 630, stroke: '#000', 'stroke-width': 2}, root);
  
  
  fTicksY.forEach(v => {
    const t = mk('line', {x1: 2379, y1: y(v), x2: 2391, y2: y(v), stroke: '#000', 'stroke-width': 1.8}, root);
    
    
    const l = mk('text', {x: 2359, y: y(v) + 32, class: 'num', 'text-anchor': 'end'}, root);
    
    
    l.textContent = v;
  });
  for (let v = 0; v <= 20; v += 2) {
    const t = mk('line', {x1: x(v), y1: 630, x2: x(v), y2: 630 + (v % 10 === 0 ? 15 : 9), stroke: '#000', 'stroke-width': 1.6}, root);
    
    
  }
  fTicksX.forEach(v => {
    const l = mk('text', {x: x(v) + (v === 0 ? 0 : 6), y: 695, class: 'num', 'text-anchor': 'middle'}, root);
    
    
    l.textContent = v;
  });
  [[fitPmma1, '#000'], [fitPmma2, '#000'], [fitSio1, '#f00'], [fitSio2, '#f00']].forEach(f => {
    const l = mk('line', {x1: x(f[0][0]), y1: y(f[0][1]), x2: x(f[0][2]), y2: y(f[0][3]), stroke: f[1], 'stroke-width': 2}, root);
    
    
  });
  [[wavelengthPmma1, '#000', 0], [wavelengthSio1, '#f00', 0], [wavelengthPmma2, '#000', 1], [wavelengthSio2, '#f00', 1]].forEach(s => {
    s[0].forEach((v, i) => {
      let m;
      if (s[2]) m = mk('rect', {x: x(roughnessPoints[i]) - 8.5, y: y(v) - 7.5, width: 17, height: 15, fill: s[1]}, root);
      else m = mk('ellipse', {cx: x(roughnessPoints[i]), cy: y(v), rx: 8, ry: 7.5, fill: s[1]}, root);
      
      
    });
  });
})();

/* ---------- Panel (g) chart ---------- */
(function () {
  const root = document.getElementById('g-chart');
  const x = v => 3189 + v * 19.75;
  const y = v => 560 - (v - 400) * 0.7067;
  const yAxis = mk('line', {x1: 3189, y1: 64, x2: 3189, y2: 631, stroke: '#000', 'stroke-width': 2}, root);
  
  
  const xAxis = mk('line', {x1: 3189, y1: 631, x2: x(21), y2: 631, stroke: '#000', 'stroke-width': 2}, root);
  
  
  gTicksY.forEach((v, i) => {
    const t = mk('line', {x1: 3175, y1: y(v), x2: 3189, y2: y(v), stroke: '#000', 'stroke-width': 1.8}, root);
    
    
    const l = mk('text', {x: v === 1000 ? 3150 : 3130, y: y(v) + 31, class: 'num', 'text-anchor': 'end'}, root);
    
    
    l.textContent = gTickLabelsY[i];
  });
  for (let v = 0; v <= 20; v += 2) {
    const t = mk('line', {x1: x(v), y1: 631, x2: x(v), y2: 631 + (v % 10 === 0 ? 15 : 9), stroke: '#000', 'stroke-width': 1.6}, root);
    
    
  }
  gTicksX.forEach(v => {
    const l = mk('text', {x: x(v) + (v === 0 ? 6 : (v === 10 ? 11 : 13)), y: 695, class: 'num', 'text-anchor': 'middle'}, root);
    
    
    l.textContent = v;
  });
  [[fitQualityPmma, '#000'], [fitQualitySio, '#f00']].forEach(f => {
    const l = mk('line', {x1: x(f[0][0]), y1: y(f[0][1]), x2: x(f[0][2]), y2: y(f[0][3]), stroke: f[1], 'stroke-width': 2}, root);
    
    
  });
  [[qualityPmma, '#000'], [qualitySio, '#f00']].forEach(s => {
    s[0].forEach((v, i) => {
      const m = mk('ellipse', {cx: x(roughnessPoints[i]), cy: y(v), rx: 8, ry: 7.5, fill: s[1]}, root);
      
      
    });
  });
})();
</script>
</body>
</html>
